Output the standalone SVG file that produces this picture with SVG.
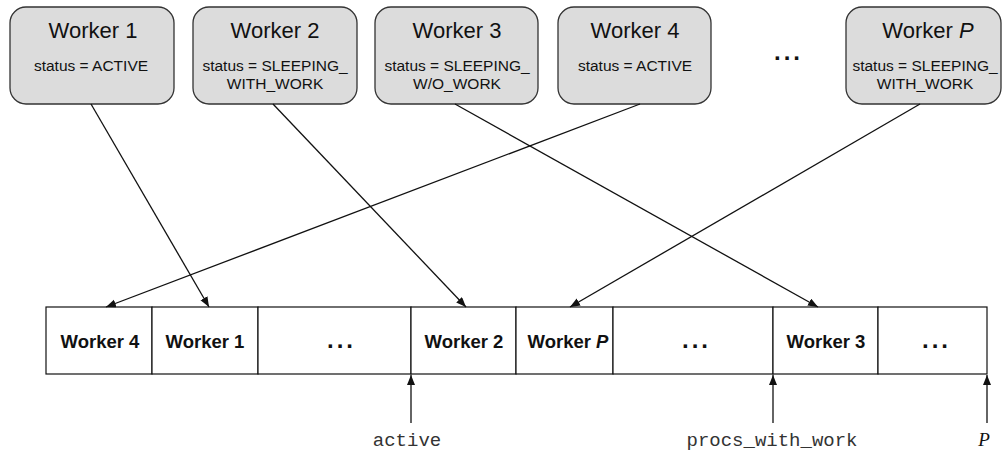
<svg xmlns="http://www.w3.org/2000/svg" width="1002" height="452" viewBox="0 0 1002 452">
<style>
.box{fill:#dcdcdc;stroke:#333;stroke-width:1.3}
.title{font-family:"Liberation Sans",Arial,sans-serif;font-size:22px;fill:#111;text-anchor:middle}
.st{font-family:"Liberation Sans",Arial,sans-serif;font-size:15.5px;fill:#111;text-anchor:middle}
.cell{fill:#fff;stroke:#111;stroke-width:1.2}
.cl{font-family:"Liberation Sans",Arial,sans-serif;font-size:18.5px;font-weight:bold;fill:#111;text-anchor:middle}
.dots{font-family:"Liberation Sans",Arial,sans-serif;font-size:24px;font-weight:bold;fill:#111;letter-spacing:3px}
.mono{font-family:"Liberation Mono","Courier New",monospace;font-size:19px;fill:#333;text-anchor:middle}
.conn{stroke:#111;stroke-width:1.3;fill:none;marker-end:url(#ah)}
</style>
<defs>
<marker id="ah" markerUnits="userSpaceOnUse" markerWidth="11" markerHeight="9" refX="10" refY="4" orient="auto">
<path d="M0,0 L10,4 L0,8 z" fill="#111"/>
</marker>
</defs>
<rect width="1002" height="452" fill="#fff"/>
<g id="worker1">
<rect class="box" x="10" y="7" width="164" height="97" rx="16"/>
<text class="title" x="93" y="38">Worker 1</text>
<text class="st" x="91" y="71">status = ACTIVE</text>
</g>
<g id="worker2">
<rect class="box" x="193" y="7" width="164" height="97" rx="16"/>
<text class="title" x="275" y="38">Worker 2</text>
<text class="st" x="275" y="71">status = SLEEPING_</text>
<text class="st" x="275" y="89">WITH_WORK</text>
</g>
<g id="worker3">
<rect class="box" x="375" y="7" width="163" height="97" rx="16"/>
<text class="title" x="457" y="38">Worker 3</text>
<text class="st" x="457" y="71">status = SLEEPING_</text>
<text class="st" x="457" y="89">W/O_WORK</text>
</g>
<g id="worker4">
<rect class="box" x="558" y="7" width="153" height="97" rx="16"/>
<text class="title" x="635" y="38">Worker 4</text>
<text class="st" x="635" y="71">status = ACTIVE</text>
</g>
<g id="ellipsis-top">
<text class="dots" x="774" y="60">...</text>
</g>
<g id="workerP">
<rect class="box" x="846" y="7" width="155" height="97" rx="16"/>
<text class="title" x="928" y="38">Worker <tspan font-style="italic">P</tspan></text>
<text class="st" x="925" y="71">status = SLEEPING_</text>
<text class="st" x="925" y="89">WITH_WORK</text>
</g>
<g id="array">
<rect class="cell" x="46" y="307" width="106" height="67"/>
<rect class="cell" x="152" y="307" width="106" height="67"/>
<rect class="cell" x="258" y="307" width="153" height="67"/>
<rect class="cell" x="411" y="307" width="105" height="67"/>
<rect class="cell" x="516" y="307" width="97" height="67"/>
<rect class="cell" x="613" y="307" width="160" height="67"/>
<rect class="cell" x="773" y="307" width="105" height="67"/>
<rect class="cell" x="878" y="307" width="109" height="67"/>
<text class="cl" x="100" y="348">Worker 4</text>
<text class="cl" x="205" y="348">Worker 1</text>
<text class="dots" x="327" y="348">...</text>
<text class="cl" x="464" y="348">Worker 2</text>
<text class="cl" x="568" y="348">Worker <tspan font-style="italic">P</tspan></text>
<text class="dots" x="682" y="348">...</text>
<text class="cl" x="826" y="348">Worker 3</text>
<text class="dots" x="922" y="348">...</text>
</g>
<g id="connectors">
<line class="conn" x1="91" y1="104" x2="209" y2="307"/>
<line class="conn" x1="273" y1="104" x2="466" y2="307"/>
<line class="conn" x1="455" y1="104" x2="818" y2="307"/>
<line class="conn" x1="640" y1="104" x2="106" y2="307"/>
<line class="conn" x1="920" y1="104" x2="570" y2="307"/>
<line class="conn" x1="411" y1="423" x2="411" y2="375"/>
<line class="conn" x1="773" y1="423" x2="773" y2="375"/>
<line class="conn" x1="987" y1="423" x2="987" y2="375"/>
</g>
<g id="labels">
<text class="mono" x="407" y="446">active</text>
<text class="mono" x="772" y="446">procs_with_work</text>
<text x="984" y="446" style="font-family:'Liberation Serif','Times New Roman',serif;font-style:italic;font-size:19px;fill:#111;text-anchor:middle">P</text>
</g>
</svg>
